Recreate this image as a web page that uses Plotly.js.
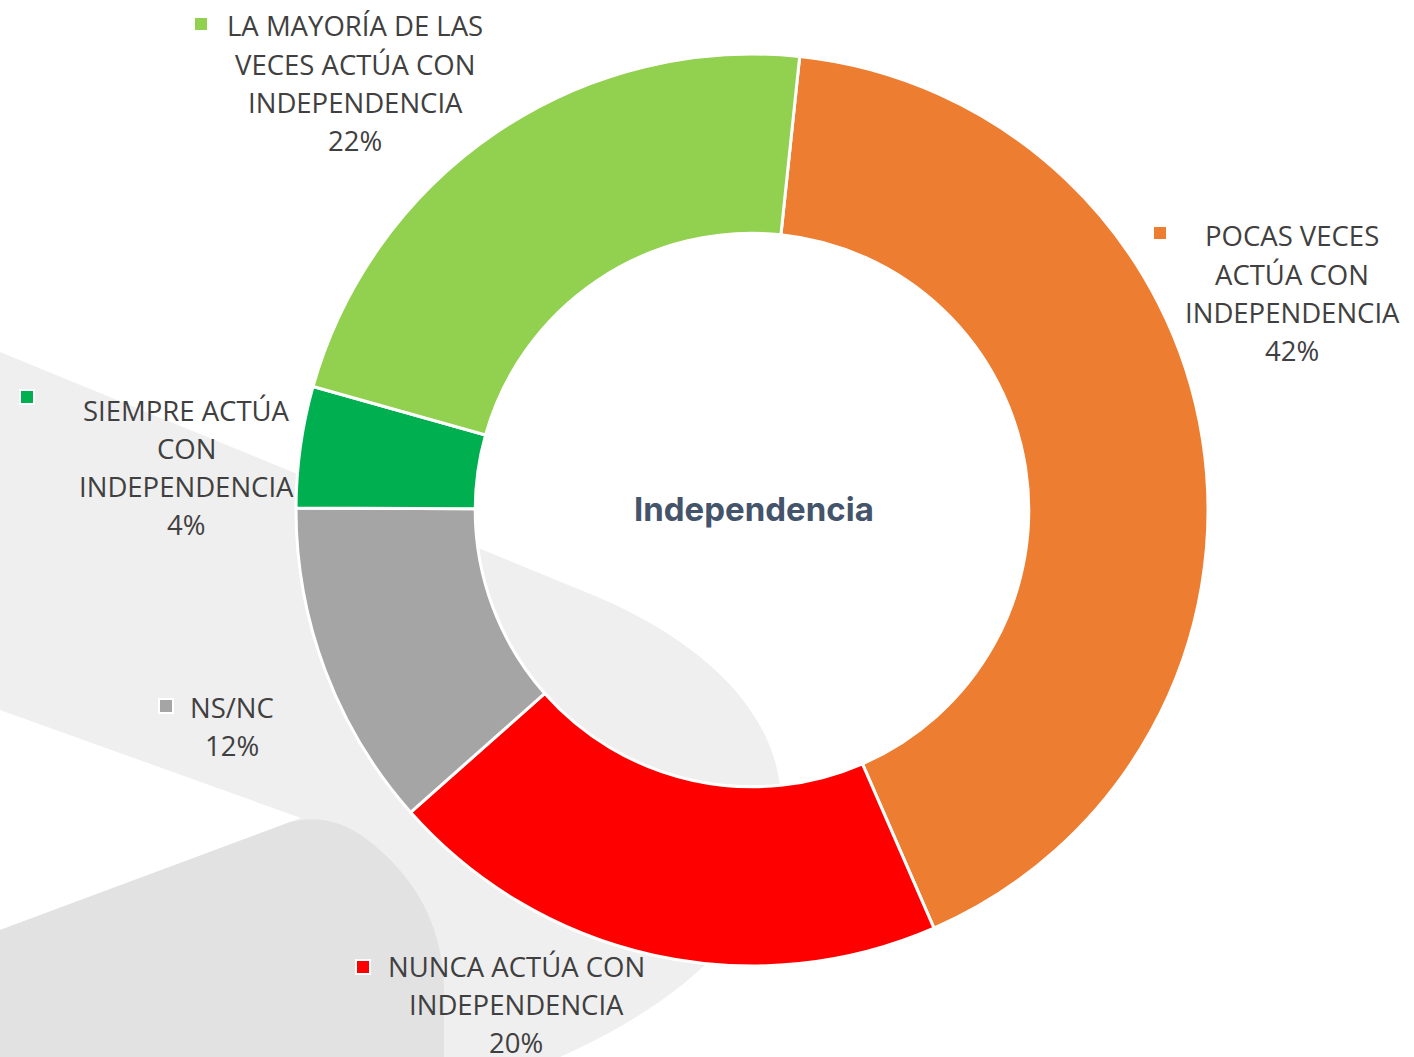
<!DOCTYPE html>
<html>
<head>
<meta charset="utf-8">
<script src="https://cdn.plot.ly/plotly-3.0.1.min.js"></script>
<style>html,body{margin:0;padding:0;background:#fff;}#chart{width:1414px;height:1057px;}</style>
</head>
<body>
<div id="chart"></div>
<script>
// ---- data ----
const categories = ["POCAS VECES ACTÚA CON INDEPENDENCIA", "NUNCA ACTÚA CON INDEPENDENCIA", "NS/NC", "SIEMPRE ACTÚA CON INDEPENDENCIA", "LA MAYORÍA DE LAS VECES ACTÚA CON INDEPENDENCIA"];
const values = [41.8, 20.0, 11.6, 4.3, 22.3];
const colors = ["#ED7D31", "#FF0000", "#A5A5A5", "#00B050", "#92D050"];
const labelLines = [
  ["POCAS VECES", "ACTÚA CON", "INDEPENDENCIA"],
  ["NUNCA ACTÚA CON", "INDEPENDENCIA"],
  ["NS/NC"],
  ["SIEMPRE ACTÚA", "CON", "INDEPENDENCIA"],
  ["LA MAYORÍA DE LAS", "VECES ACTÚA CON", "INDEPENDENCIA"]
];
const centerTitle = "Independencia";

// ---- layout helpers (pixel -> paper) ----
const W = 1414, H = 1057;
const px = x => x / W, py = y => 1 - y / H;
function pathPx(cmds) {
  return cmds.map(c => {
    const l = c[0];
    const pts = [];
    for (let i = 1; i < c.length; i += 2) pts.push(px(c[i]).toFixed(5) + "," + py(c[i + 1]).toFixed(5));
    return l + pts.join(" ");
  }).join(" ");
}

// label placement: [centerX, firstLineY, squareX, squareY]
const labelPos = [
  [1292, 236, 1160, 233],
  [516, 966, 363, 967],
  [232, 707, 166, 706],
  [186, 410, 27, 397],
  [355, 26, 201, 24]
];
const lineGap = 38.3;
const textColor = "#404040";
const textFont = "Open Sans, Noto Sans, sans-serif";

const annotations = [];
const shapes = [];

// background decoration
shapes.push({type: "path", xref: "paper", yref: "paper", layer: "below", line: {width: 0}, fillcolor: "#EFEFEF",
  path: pathPx([["M", 0, 352], ["L", 600, 598], ["C", 720, 650, 790, 730, 780, 820], ["C", 772, 900, 720, 985, 560, 1057], ["L", 0, 1057], ["Z"]])});
shapes.push({type: "path", xref: "paper", yref: "paper", layer: "below", line: {width: 0}, fillcolor: "#FFFFFF",
  path: pathPx([["M", 0, 710], ["L", 301, 818], ["L", 0, 930], ["Z"]])});
shapes.push({type: "path", xref: "paper", yref: "paper", layer: "below", line: {width: 0}, fillcolor: "#E2E2E2",
  path: pathPx([["M", 0, 930], ["L", 290, 822], ["Q", 330, 812, 365, 838], ["C", 415, 875, 442, 925, 444, 985], ["L", 444, 1057], ["L", 0, 1057], ["Z"]])});

labelPos.forEach((p, i) => {
  const lines = labelLines[i].concat([Math.round(values[i]) + "%"]);
  lines.forEach((t, j) => {
    annotations.push({xref: "paper", yref: "paper", x: px(p[0]), y: py(p[1] + j * lineGap), xanchor: "center", yanchor: "middle",
      text: t, showarrow: false, borderpad: 0, font: {family: textFont, size: 27.5, color: textColor}});
  });
  const s = 7;
  shapes.push({type: "rect", xref: "paper", yref: "paper", x0: px(p[2] - s), x1: px(p[2] + s), y0: py(p[3] + s), y1: py(p[3] - s),
    fillcolor: colors[i], line: {color: "#FFFFFF", width: 2}, layer: "above"});
});

annotations.push({xref: "paper", yref: "paper", x: px(754), y: py(509), xanchor: "center", yanchor: "middle",
  text: "<b>" + centerTitle + "</b>", showarrow: false, font: {family: "Inter, Lato, sans-serif", size: 33, color: "#44546A"}});

const cx = 752, cy = 510, R = 456;
const trace = {
  type: "pie",
  labels: categories,
  values: values,
  sort: false,
  direction: "clockwise",
  rotation: 6,
  hole: 0.607,
  textinfo: "none",
  hoverinfo: "label+percent",
  marker: {colors: colors, line: {color: "#FFFFFF", width: 3}},
  domain: {x: [px(cx - R), px(cx + R)], y: [py(cy + R), py(cy - R)]}
};

const layout = {
  width: W, height: H,
  margin: {l: 0, r: 0, t: 0, b: 0},
  paper_bgcolor: "#FFFFFF",
  plot_bgcolor: "rgba(0,0,0,0)",
  showlegend: false,
  shapes: shapes,
  annotations: annotations
};

Plotly.newPlot("chart", [trace], layout, {displayModeBar: false, staticPlot: true});
</script>
</body>
</html>
